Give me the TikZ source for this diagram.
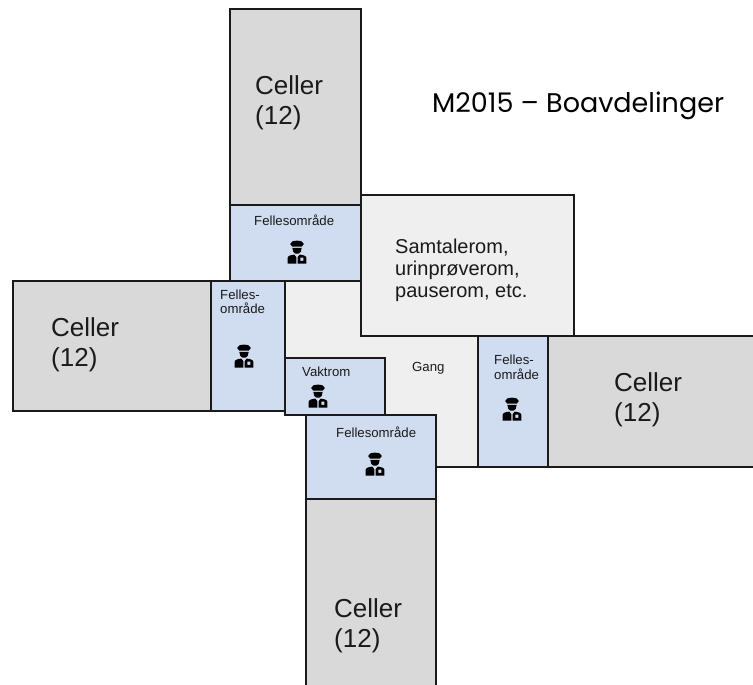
\documentclass[tikz,border=0pt]{standalone}
\usepackage{fontspec}
\setmainfont{Liberation Sans}
\newfontfamily\titlefont{Poppins}
\definecolor{cellgray}{HTML}{D9D9D9}
\definecolor{areablue}{HTML}{D0DDF0}
\definecolor{hallgray}{HTML}{EFEFEF}
\definecolor{inkdark}{HTML}{1A1A1A}
\tikzset{
  room/.style={draw=inkdark,line width=1.7pt,inner sep=0pt,outer sep=0pt,anchor=north west},
  cellroom/.style={room,fill=cellgray},
  arearoom/.style={room,fill=areablue},
  biglabel/.style={align=left,anchor=north west,inner sep=0pt,font=\fontsize{26}{30}\selectfont,text=inkdark},
  midlabel/.style={align=left,anchor=north west,inner sep=0pt,font=\fontsize{20}{22}\selectfont,text=inkdark},
  smalllabel/.style={align=left,anchor=north west,inner sep=0pt,font=\fontsize{13.2}{14.5}\selectfont,text=inkdark},
  guard/.pic={
    \fill[black] (-4.5,-11) .. controls (-2,-12) and (2,-12) .. (4.5,-11) -- (6.5,-8.5) -- (4.5,-6) -- (-4.5,-6) -- (-6.5,-8.5) -- cycle;
    \fill[black] (-4.5,-5) -- (4.5,-5) -- (3.5,-1) -- (1.5,0.5) -- (-1.5,0.5) -- (-3.5,-1) -- cycle;
    \fill[black] (-9,10) -- (-9,5) .. controls (-9,2.5) and (-6,2) .. (-2.5,1.5) -- (-0.7,4) -- (-0.7,10) -- cycle;
    \fill[black,even odd rule] (0.7,10) -- (0.7,4) -- (2.5,1.5) .. controls (6,2) and (9,2.5) .. (9,5) -- (9,10) -- cycle
      (3.2,4.5) rectangle (6,7.5);
  }
}
\begin{document}
\begin{tikzpicture}[x=1pt,y=-1pt]
\useasboundingbox (0,0) rectangle (753,685);
\clip (0,0) rectangle (753,685);
\fill[white] (0,0) rectangle (753,685);
% corridor
\draw[draw=inkdark,line width=1.7pt,fill=hallgray] (285,281) -- (361,281) -- (361,336) -- (478,336) -- (478,467) -- (436,467) -- (436,415) -- (385,415) -- (385,358) -- (285,358) -- cycle;
\node[room,fill=hallgray,minimum width=213pt,minimum height=141pt] (meeting) at (361,195) {};
\node[cellroom,minimum width=131pt,minimum height=196pt] (celltop) at (230,9) {};
\node[arearoom,minimum width=131pt,minimum height=76pt] (areatop) at (230,205) {};
\node[cellroom,minimum width=198pt,minimum height=130pt] (cellleft) at (13,281) {};
\node[arearoom,minimum width=74pt,minimum height=130pt] (arealeft) at (211,281) {};
\node[arearoom,minimum width=100pt,minimum height=57pt] (guardroom) at (285,358) {};
\node[arearoom,minimum width=130pt,minimum height=84pt] (areabottom) at (306,415) {};
\node[cellroom,minimum width=130pt,minimum height=200pt] (cellbottom) at (306,499) {};
\node[arearoom,minimum width=70pt,minimum height=131pt] (arearight) at (478,336) {};
\node[cellroom,minimum width=216pt,minimum height=131pt] (cellright) at (548,336) {};
% labels
\node[biglabel] (t1) at (255,75) {Celler\\(12)};
\node[biglabel] (t2) at (51,317) {Celler\\(12)};
\node[biglabel] (t3) at (614,372) {Celler\\(12)};
\node[biglabel] (t4) at (334,598) {Celler\\(12)};
\node[midlabel] (t5) at (395,238.5) {Samtalerom,\\urinprøverom,\\pauserom, etc.};
\node[smalllabel] (t6) at (254,215) {Fellesområde};
\node[smalllabel] (t7) at (220,289.5) {Felles-\\område};
\node[smalllabel] (t8) at (302,367) {Vaktrom};
\node[smalllabel] (t9) at (336,427) {Fellesområde};
\node[smalllabel] (t10) at (494,355) {Felles-\\område};
\node[smalllabel] (t11) at (412,362) {Gang};
\node[anchor=north west,inner sep=0pt,font=\titlefont\fontsize{27}{30}\selectfont,text=black] (title) at (432,92) {M2015 – Boavdelinger};
% icons
\pic[scale=1.05] at (297,253) {guard};
\pic[scale=1.05] at (244,357) {guard};
\pic[scale=1.05] at (318,397) {guard};
\pic[scale=1.05] at (375,465) {guard};
\pic[scale=1.05] at (512,410) {guard};
\end{tikzpicture}
\end{document}
